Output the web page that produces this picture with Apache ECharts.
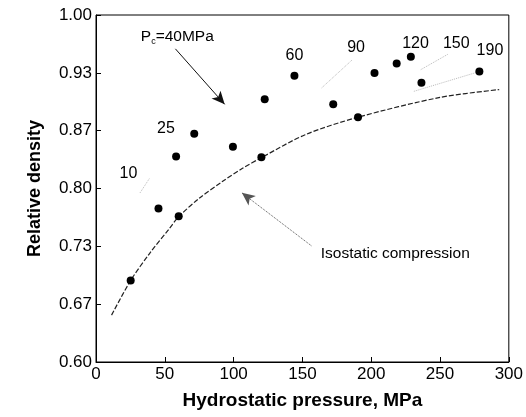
<!DOCTYPE html>
<html>
<head>
<meta charset="utf-8">
<script src="https://cdn.jsdelivr.net/npm/echarts@6/dist/echarts.min.js"></script>
<style>html,body{margin:0;padding:0;background:#fff;}#c{width:526px;height:417px;}</style>
</head>
<body>
<div id="c"></div>
<script>
// Experimental points (hydrostatic pressure MPa, relative density)
const pointsX = [25.2, 45.4, 60.1, 58.2, 71.4, 99.5, 120.2, 122.6, 144.2, 172.4, 190.4, 202.4, 218.5, 228.8, 236.5, 278.6];
const pointsY = [0.694, 0.777, 0.768, 0.837, 0.863, 0.848, 0.836, 0.903, 0.930, 0.897, 0.882, 0.933, 0.944, 0.952, 0.922, 0.935];

// Isostatic compression curve
const isoX = [11.3, 25.2, 38.9, 53.4, 60.1, 75, 91.8, 106.2, 120.7, 152, 190, 250, 293];
const isoY = [0.654, 0.694, 0.725, 0.754, 0.7675, 0.7887, 0.808, 0.823, 0.836, 0.862, 0.882, 0.905, 0.914];

// Faint loading-path traces (start/end)
const faintPaths = [
  [[32, 0.795], [39, 0.812]],
  [[164, 0.916], [186, 0.948]],
  [[236, 0.937], [256, 0.955]],
  [[231, 0.912], [279, 0.935]]
];

// Confining pressure labels
const pcLabels = ['10', '25', '60', '90', '120', '150', '190'];
const pcLabelX = [23.6, 50.8, 144.2, 189, 232.2, 261.8, 286.3];
const pcLabelY = [0.817, 0.869, 0.953, 0.9625, 0.9666, 0.9666, 0.9585];

// Axis ticks
const xTicks = [0, 50, 100, 150, 200, 250, 300];
const yTickLabels = ['0.60', '0.67', '0.73', '0.80', '0.87', '0.93', '1.00'];

const FONT = 'Liberation Sans, Arial, sans-serif';

const chart = echarts.init(document.getElementById('c'), null, {renderer: 'canvas'});

const series = [];
series.push({
  type: 'line',
  data: isoX.map((x, i) => [x, isoY[i]]),
  smooth: 0.3,
  showSymbol: false,
  lineStyle: {color: '#222', width: 1.2, type: [5, 2]},
  silent: true,
  z: 2,
  markLine: {
    silent: true,
    symbol: ['none', 'arrow'],
    symbolSize: [9, 13],
    label: {show: false},
    data: [
      [{coord: [57.7, 0.961], lineStyle: {color: '#111', width: 1, type: 'solid'}, symbol: 'none'},
       {coord: [93.5, 0.897], symbol: 'arrow'}],
      [{coord: [156.5, 0.734], lineStyle: {color: '#555', width: 1, type: 'dotted'}, symbol: 'none'},
       {coord: [106, 0.795], symbol: 'arrow'}]
    ],
    itemStyle: {color: '#000'}
  }
});
faintPaths.forEach(p => {
  series.push({
    type: 'line', data: p, showSymbol: false, silent: true,
    lineStyle: {color: '#bbb', width: 1, type: 'dotted'}, z: 1
  });
});
series.push({
  type: 'scatter',
  data: pointsX.map((x, i) => [x, pointsY[i]]),
  symbolSize: 8,
  itemStyle: {color: '#000', opacity: 1},
  z: 5
});
series.push({
  type: 'scatter',
  data: pcLabelX.map((x, i) => ({value: [x, pcLabelY[i]], name: pcLabels[i]})),
  symbolSize: 0,
  itemStyle: {opacity: 1},
  label: {show: true, position: 'inside', formatter: p => p.name, color: '#000', opacity: 1, fontSize: 16, fontFamily: FONT},
  z: 6
});
series.push({
  type: 'scatter',
  data: [{value: [59.1, 0.975], name: 'pc'}, {value: [217.5, 0.7245], name: 'iso'}],
  symbolSize: 0,
  itemStyle: {opacity: 1},
  label: {
    show: true, position: 'inside', color: '#000', opacity: 1, fontSize: 15.5, fontFamily: FONT,
    formatter: p => p.name === 'pc' ? 'P{s|c}=40MPa' : 'Isostatic compression',
    rich: {s: {fontSize: 9, verticalAlign: 'bottom', padding: [10, 0, 0, 0], color: '#000', fontFamily: FONT}}
  },
  z: 6
});

chart.setOption({
  animation: false,
  backgroundColor: '#fff',
  grid: {left: 96, right: 14, top: 15, bottom: 55, show: true, borderColor: '#000', borderWidth: 1, containLabel: false},
  xAxis: {
    type: 'value', min: xTicks[0], max: xTicks[xTicks.length - 1], interval: 50,
    name: 'Hydrostatic pressure, MPa', nameLocation: 'middle', nameGap: 29,
    nameTextStyle: {fontSize: 19, fontWeight: 'bold', color: '#000', fontFamily: FONT},
    axisLine: {lineStyle: {color: '#000', width: 1}},
    axisTick: {inside: true, length: 5, lineStyle: {color: '#000'}},
    axisLabel: {fontSize: 17, color: '#000', margin: 4, fontFamily: FONT},
    splitLine: {show: false}
  },
  yAxis: {
    type: 'value', min: 0.6, max: 1.0, interval: 0.4 / 6,
    name: 'Relative density', nameLocation: 'middle', nameGap: 52,
    nameTextStyle: {fontSize: 18, fontWeight: 'bold', color: '#000', fontFamily: FONT},
    axisLine: {show: true, lineStyle: {color: '#000', width: 1}},
    axisTick: {show: true, inside: true, length: 5, lineStyle: {color: '#000'}},
    axisLabel: {
      fontSize: 17, color: '#000', margin: 4, fontFamily: FONT,
      formatter: v => {
        const k = Math.round((v - 0.6) / (0.4 / 6));
        return yTickLabels[k] !== undefined ? yTickLabels[k] : '';
      }
    },
    splitLine: {show: false}
  },
  series: series
});
</script>
</body>
</html>
